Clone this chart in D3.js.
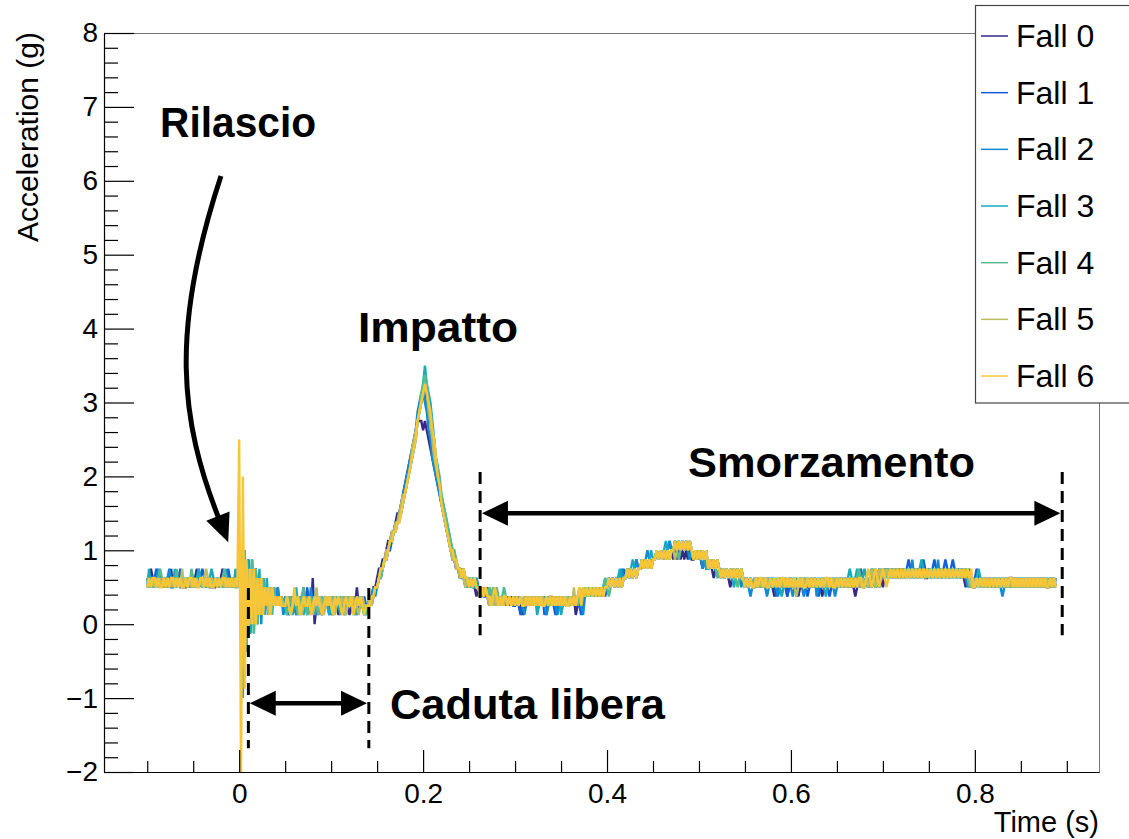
<!DOCTYPE html>
<html>
<head>
<meta charset="utf-8">
<script src="https://cdn.jsdelivr.net/npm/d3@7"></script>
<style>
  body { margin: 0; background: #fff; }
  svg { display: block; font-family: "Liberation Sans", Arial, Helvetica, sans-serif; }
</style>
</head>
<body>
<svg id="chart" width="1129" height="839"></svg>
<script>
// Accelerometer traces of seven drops. Each chunk is [start time (s), samples];
// one character per 2 ms sample, in raw sensor counts of 1/8 g ('Q' = 0 counts).
// Spaces only group the samples for reading and are ignored.
const SAMPLE_STEP = 0.002;
const G_PER_COUNT = 0.125;
const COUNT_CODES = "ABCDEFGHIJKLMNOPQRSTUVWXYZabcdefghijklmnopqrstuvwxyz";
const ZERO_CODE = 16;

const fall0 = [
  [-0.100, "UVWVUVUVUV UVUWUVUVUV UUVUVUVWUV UVUVUVUUVU VWVUVUVUVU"],
  [0.000,  "VYOXPXQWQWRVRVSURUSTSUSTS"],
  [0.050,  "STRSTSRSTS USTSRVQSTS RSTSTRSTSR STSTSRSTSU STSRS"],
  [0.140,  "STTUUVWWXX YZZaabccde fghijklmmm lmlkjihgfe dcbaZYYXWW VWVVUVUVUT"],
  [0.260,  "UTUTUTSTTU TSTSTSTSTS TSTSRSTSTS TSTSTSTRST STSTSTSTSS TSTRSTSUTU TUTUTUTUTU"],
  [0.400,  "UVUVUVUVUV VWVWVWVW WXWXWXWX XYXYXYXYXY XYXYXYXYXYX XYXYXWXW WXWVWXW VWVWVUVWVWVWV UVUVU"],
  [0.560,  "UVUVUVUVUV UTUVUVUVTU VUVUTUVUVU UVUVUVUTUV UVUVUVUVUV UVUVUTUVUV"],
  [0.680,  "UVUVUVUVWV UVWVWVWVWV WVWVWVWVWV WVWVVWVWVW VWVWVWVWVW VWVWVUVUVU"],
  [0.800,  "UVUVUVUVUV UVUVUVUVUV VUVUVUVUVU VUVUVUVUVU UVUVU"]
];

const fall1 = [
  [-0.100, "VUVUVWVUVU VUVUUVUVWV UVUVUVUVUV WVUVUUVUVU VUVUWVUVUV"],
  [0.000,  "VXKYOXPWQWQVRVRUSUSUSTSTS"],
  [0.050,  "TSRSTSTSRS TSUSTSRSTS RSTSTSRSTS TSSRSTSTSR STSTS"],
  [0.140,  "STSTUUVVWX XYYZaabccd efghijlmno pqonmkjhgf dcbaZYXXWW VWVVUVUVUV"],
  [0.260,  "UTUTTUTSTU TSTSTSTSTS STSRSTSTST STSTSTRSTS TSRSTSTSTS TSTSTSRSUT UTUTUTUTUT"],
  [0.400,  "UVUVUVUVVW VWVWVWXW WXWXWXWX XYXYXYXYZY YZYZYZYZYZY XYXYXYXY WXWXWXW VWVWVWVWVWVWV UVUVU"],
  [0.560,  "VUVUVUVUVU VUTUVUVUTU VUVTUVUVUT UVUVUTUVUV UTUVUVUVUV UVUVUVUVWV"],
  [0.680,  "UVUVWVUVUV VWVWVWVWVW VWVWXWVWVW VWXWVWVWXW VWVWXWVWXW VWVWVWVWVU"],
  [0.800,  "VWVUVUVUVU VUVUVUVUVU VUVUVUVUVU VUVUVUVUVU VUVUV"]
];

const fall2 = [
  [-0.100, "UVUVUVWVUV UVWVUVUVUU VUVUVUVUWV UVUVUVUVUV UVUWUVUVUV"],
  [0.000,  "VYMXOWPXQWRVQVSURUSTSUSTR"],
  [0.050,  "SRSTSTRSTS TSRSUSTSRS TSTSRSTSTS TSRSTSTSRS TSTSR"],
  [0.140,  "SSTUTUVWWX XYZZabbcde fghijklnop ponlkihgfe dcbaZYYXWW WVVUVUVUUV"],
  [0.260,  "UTUTUTSTST STSTSTSTST STSTSRSTST STSTSTSRST STSRSTSTST STSTSTSRTU TUTUTUTUTU"],
  [0.400,  "UVUVUVUVWV VWVWVWXW WXWXYXWX XYXYXYXYZY YZYZYZYZYXY XYXYXWXW WXWXWVW VWVWVWVWVWVUV UVUTU"],
  [0.560,  "UVUVUVUTUV UVUTUVUVUV UTUVUVUTUV UVUVTUVUVU VUVUTUVUVU VUVUVUVUVU"],
  [0.680,  "UVUVUVWVUV WVWVWVWVWV WVWVWVXVWV WVWVWVWVWV XVWVWVWVWV WVWVWVUVUV"],
  [0.800,  "UVUVUVUVUV UVUVUTUVUV UVUVUVUVUV UVUVUVUVUV UVUVU"]
];

const fall3 = [
  [-0.100, "UWUVUVUVUV UVUVUWUVUV UVUVUVUVWU VUVUVWVUVU VUVUVUVUWV"],
  [0.000,  "WYIYNXPXPWQWRVRVSUSUSTSTS"],
  [0.050,  "TSTSRSUSTS RSTSTSRSTS TSTSRSTSTS RSTSSTSRST STSRS"],
  [0.140,  "SSTTUUVWWX XYZZaabccd efghijkmno qsqpomkihf edcbaZYXXW WVWVUVUVUV"],
  [0.260,  "UTUTUTUTST STSTSTSTST STSTSTSTST STRSTSTSTS TSTSTRSTST STSTSTSTUT UTUTUTUTUV"],
  [0.400,  "UVUVUVVWUV VWVWXWVW WXWXWXYX XYXYXYZYXY YZYZYZYZYZY XYXYXYXW WXWXWXW VWVWVWVUVWVWV UVUVU"],
  [0.560,  "UVUVUVUVUV UVUVUTUVUV UVUVUVUVUV UVUVUVUVUT UVUVUVUVUV UVWVUVWVUV"],
  [0.680,  "WVUVWVUVWV WVWVWVWVWV WVWVWVWVWV WXWVWVWVWV WVWVWVWVWV WVWVWVWVUV"],
  [0.800,  "UVWVUVUVUV UVUVUVUVUV UVUVUVUVUV UVUVUVUVUV UVUVU"]
];

const fall4 = [
  [-0.100, "VUVUVUVWVU VUVUVUWUVU VUVUWVUVUV UVUVUVUVUV UVWVUVUVUU"],
  [0.000,  "VXLYOWQXPWQVRVSUSURUSTSTS"],
  [0.050,  "SRSTSTSRST USRSTSTSRS TSTSTSRSTS TSRSTSTSRS TSTSR"],
  [0.140,  "SSTTUUVVWX XYZZaabbcd efghijkmnp qrqomlkihg edcbaZYYXW WVWVVUVUVU"],
  [0.260,  "UTUTUTUTUT UTSTUTSTST STSTSTSTST STSTSTSTST STSTSTSTST STSTSTSTUT UTUTUTUTUV"],
  [0.400,  "UTUVUVUVUV VWVWVWVW WXWXWXWX XYXYXYXYXY YZYXYZYZYZY XYXYXYXY WXWXWVW VWVWVWVWVUVWV UVUVU"],
  [0.560,  "VUVUVUVUVU VUVUVUVUVU VUVUVUVUVU VUVUVUVUVU VUVUVUVUVU VUVUVUVWVU"],
  [0.680,  "VUVUVWVUVW VWVWVWVWVW VWVWVWVWVW VWVWVWVWVW VWVWVWVWVW VWVWVWVUVU"],
  [0.800,  "VUVUVUVUVU VUVUVUVUVU VUVUVUVUVU VUVUVUVUVU VUVUV"]
];

const fall5 = [
  [-0.100, "UVUVUVUVUV UVUVUVUVUW UVUVUVUVUV UVWVUVUVUV UVUVUVUVUV"],
  [0.000,  "VWNXPWQWQVRVRUSURUSTSTSTS"],
  [0.050,  "STSRSTSTSR STSTSRSUST SRSTSTSRST STSRSTSTSS RSTSS"],
  [0.140,  "STSTUUVWWX YYZaabbcde efghjklmno pqpnmkihgf dcbaZYXXWW VWVUVUVUVU"],
  [0.260,  "UTUTUTSTST STSTSTSTST STSTSTSTST STSTSTSTST TSTSTSTSTS TSUSTUTUTU TUTUTUTUTU"],
  [0.400,  "UVUVUVUVUV VWVWVWVW WXWXWXWX XYXYXYXYXY YXYZYZYZYZY XYXYXYXY WXWXWXW VWVWVWVWVWVWV UVUVU"],
  [0.560,  "UVUVUVUVUV UVUVUVUVUV UVUTUVUVUV UVUVUVUVUV UVUVUVUVUV UVUVUVUVUV"],
  [0.680,  "UVUVWVUVWV WVWVWVWVWV WVWVWVWVWV WVWVWVWVWV WVWVWVWVWV WVWVWVWVUV"],
  [0.800,  "UVUVUVUVUV UVUVUVUVUV UVUVUVUVUV UVUVUVUVUV UVUVU"]
];

const fall6 = [
  [-0.100, "UVUVVUVUUV UVUVVUVUVU UVUVVUVUUV VUVUVUUVUV UVVUVUVUVU"],
  [0.000,  "kAgJXPWQWQVRVRUSURUSTSTSS"],
  [0.050,  "STSRSUSTR STSSTRSTS TSRSTSTSR TSTSRSTSS TRSTSTSRS"],
  [0.140,  "SSTTUUVWWX XYZZaabbcd efghijkmno pqponlkigf dcbaZYYXXW WVWVVUVUVU"],
  [0.260,  "UTUTUTTSTU TSTSTTSTST STSTSSTSTS TSTSTSSTST STSTSTSTSS TSTSTUSUTU TUTUTUTUTU"],
  [0.400,  "UVUVUVUVUV VWVWVWVW WXWXWXWX XYXYXYXYXY YZYZYZYZYZY XYXYXYXY WXWXWXW VWVWVWVWVWVWV UVUVU"],
  [0.560,  "UVUVVUVUUV UVUVUVVUVU VUVUVUVUUV UVUVUVUVUV VUVUUVUVUV UVUVUVUVVU"],
  [0.680,  "UVWVUVWVUV WVUVWVWVWV WVWVWVWVWV WVWVWVWVWV WVWVWVWVWV WVWVWVWVWU"],
  [0.800,  "UVUVUVUVUV UVUVUVUVUV VUVUVUVUVU VUVUVUVUVU UVUVU"]
];

const seriesNames  = ["Fall 0", "Fall 1", "Fall 2", "Fall 3", "Fall 4", "Fall 5", "Fall 6"];
const seriesColors = ["#352a87", "#105fdc", "#108bd2", "#17abb9", "#55ba8f", "#bcbc62", "#f7c638"];
const seriesChunks = [fall0, fall1, fall2, fall3, fall4, fall5, fall6];

const xTickValues = [0, 0.2, 0.4, 0.6, 0.8];
const xTickLabels = ["0", "0.2", "0.4", "0.6", "0.8"];
const yTickValues = [-2, -1, 0, 1, 2, 3, 4, 5, 6, 7, 8];
const yTickLabels = ["\u22122", "\u22121", "0", "1", "2", "3", "4", "5", "6", "7", "8"];

const xTitle = "Time (s)";
const yTitle = "Acceleration (g)";

// Phase boundaries (s) and the labels written on the plot
const phaseMarks = [
  { t: 0.010, from: 0.49, to: -1.68 },
  { t: 0.141, from: 0.49, to: -1.68 },
  { t: 0.262, from: 2.06, to: -0.15 },
  { t: 0.895, from: 2.06, to: -0.15 }
];
const spanArrows = [
  { t0: 0.0115, t1: 0.139, g: -1.07 },
  { t0: 0.264,  t1: 0.893, g: 1.5 }
];
const phaseLabels = [
  { text: "Rilascio",      t: -0.086, g: 6.59,  width: 156 },
  { text: "Impatto",       t: 0.1292, g: 3.82,  width: 160 },
  { text: "Smorzamento",   t: 0.488,  g: 1.99,  width: 287 },
  { text: "Caduta libera", t: 0.164,  g: -1.28, width: 275 }
];
// Curved pointer from "Rilascio" down to the release spike: start, two controls, end
const releasePointer = [[-0.0198, 6.065], [-0.0752, 3.981], [-0.0644, 2.763], [-0.0219, 1.424]];

function decode(chunks) {
  const pts = [];
  chunks.forEach(([t0, codes]) => {
    const s = codes.replace(/\s+/g, "");
    for (let i = 0; i < s.length; i++) {
      pts.push({ t: t0 + i * SAMPLE_STEP, g: (COUNT_CODES.indexOf(s[i]) - ZERO_CODE) * G_PER_COUNT });
    }
  });
  return pts;
}
const series = seriesChunks.map((c, i) => ({ name: seriesNames[i], color: seriesColors[i], values: decode(c) }));

// ---------- layout ----------
const plot = { left: 104, right: 1099, top: 33, bottom: 772 };
const x = d3.scaleLinear().domain([-0.147, 0.935]).range([plot.left, plot.right]);
const y = d3.scaleLinear().domain([-2, 8]).range([plot.bottom, plot.top]);

const svg = d3.select("#chart");
const FONT = "'Liberation Sans', Arial, Helvetica, sans-serif";

svg.append("defs").append("clipPath").attr("id", "plot-clip")
  .append("rect")
  .attr("x", plot.left).attr("y", plot.top)
  .attr("width", plot.right - plot.left).attr("height", plot.bottom - plot.top);

// frame
svg.append("rect")
  .attr("x", plot.left + 0.5).attr("y", plot.top + 0.5)
  .attr("width", plot.right - plot.left).attr("height", plot.bottom - plot.top)
  .attr("fill", "none").attr("stroke", "#777").attr("stroke-width", 1);

// ---------- traces ----------
const line = d3.line().x(d => x(d.t)).y(d => y(d.g));
svg.append("g").attr("clip-path", "url(#plot-clip)")
  .selectAll("path").data(series).join("path")
  .attr("d", d => line(d.values))
  .attr("fill", "none")
  .attr("stroke", d => d.color)
  .attr("stroke-width", 2.4)
  .attr("stroke-linejoin", "miter");

// ---------- axes ----------
function styleAxis(g) {
  g.attr("font-family", FONT).attr("font-size", 28);
  g.selectAll(".domain").attr("stroke", "#000").attr("stroke-width", 1.2);
  g.selectAll(".tick line").attr("stroke", "#000").attr("stroke-width", 1.2);
  g.selectAll(".tick text").attr("fill", "#000");
}

const yMinor = d3.range(-2, 8.001, 0.2).map(v => +v.toFixed(2)).filter(v => Math.abs(v - Math.round(v)) > 1e-6);
const xMinor = d3.range(-0.1, 0.9001, 0.05).map(v => +v.toFixed(2)).filter(v => Math.abs(v / 0.2 - Math.round(v / 0.2)) > 1e-6);

svg.append("g").attr("transform", `translate(${plot.left},0)`)
  .call(d3.axisLeft(y).tickValues(yMinor).tickFormat("").tickSizeInner(-14).tickSizeOuter(0))
  .call(g => g.select(".domain").remove())
  .call(styleAxis);
svg.append("g").attr("transform", `translate(${plot.left},0)`)
  .call(d3.axisLeft(y).tickValues(yTickValues).tickFormat((d, i) => yTickLabels[i])
    .tickSizeInner(-30).tickSizeOuter(0).tickPadding(6))
  .call(styleAxis);

svg.append("g").attr("transform", `translate(0,${plot.bottom})`)
  .call(d3.axisBottom(x).tickValues(xMinor).tickFormat("").tickSizeInner(-11).tickSizeOuter(0))
  .call(g => g.select(".domain").remove())
  .call(styleAxis);
svg.append("g").attr("transform", `translate(0,${plot.bottom})`)
  .call(d3.axisBottom(x).tickValues(xTickValues).tickFormat((d, i) => xTickLabels[i])
    .tickSizeInner(-22).tickSizeOuter(0).tickPadding(11))
  .call(styleAxis);

// axis titles
svg.append("text")
  .attr("x", plot.right).attr("y", 832)
  .attr("text-anchor", "end")
  .attr("font-family", FONT).attr("font-size", 29)
  .text(xTitle);
svg.append("text")
  .attr("transform", `translate(38,${plot.top - 1}) rotate(-90)`)
  .attr("text-anchor", "end")
  .attr("font-family", FONT).attr("font-size", 30)
  .text(yTitle);

// ---------- legend ----------
const legend = svg.append("g");
legend.append("rect")
  .attr("x", 975.5).attr("y", 5.5).attr("width", 200).attr("height", 397.5)
  .attr("fill", "#fff").attr("stroke", "#444").attr("stroke-width", 1.2);
const rows = legend.selectAll("g.row").data(series).join("g")
  .attr("class", "row")
  .attr("transform", (d, i) => `translate(0,${47 + i * 56.67})`);
rows.append("line")
  .attr("x1", 981).attr("x2", 1008).attr("y1", -11).attr("y2", -11)
  .attr("stroke", d => d.color).attr("stroke-width", 1.5);
rows.append("text")
  .attr("x", 1016).attr("y", 0)
  .attr("font-family", FONT).attr("font-size", 32)
  .text(d => d.name);

// ---------- phase annotations ----------
const ann = svg.append("g");

ann.selectAll("line.mark").data(phaseMarks).join("line")
  .attr("class", "mark")
  .attr("x1", d => x(d.t)).attr("x2", d => x(d.t))
  .attr("y1", d => y(d.from)).attr("y2", d => y(d.to))
  .attr("stroke", "#000").attr("stroke-width", 3)
  .attr("stroke-dasharray", "12,7");

const HEAD_LEN = 26, HEAD_HALF = 12.5;
spanArrows.forEach(a => {
  const xa = x(a.t0), xb = x(a.t1), yy = y(a.g);
  ann.append("line")
    .attr("x1", xa + HEAD_LEN - 2).attr("x2", xb - HEAD_LEN + 2)
    .attr("y1", yy).attr("y2", yy)
    .attr("stroke", "#000").attr("stroke-width", 4.5);
  ann.append("path")
    .attr("d", `M${xa},${yy}L${xa + HEAD_LEN},${yy - HEAD_HALF}L${xa + HEAD_LEN},${yy + HEAD_HALF}Z`)
    .attr("fill", "#000");
  ann.append("path")
    .attr("d", `M${xb},${yy}L${xb - HEAD_LEN},${yy - HEAD_HALF}L${xb - HEAD_LEN},${yy + HEAD_HALF}Z`)
    .attr("fill", "#000");
});

// curved pointer with its head along the end tangent
{
  const p = releasePointer.map(([t, g]) => [x(t), y(g)]);
  ann.append("path")
    .attr("d", `M${p[0][0]},${p[0][1]}C${p[1][0]},${p[1][1]} ${p[2][0]},${p[2][1]} ${p[3][0]},${p[3][1]}`)
    .attr("fill", "none").attr("stroke", "#000").attr("stroke-width", 5);
  const dx = p[3][0] - p[2][0], dy = p[3][1] - p[2][1];
  const len = Math.hypot(dx, dy), ux = dx / len, uy = dy / len;
  const bx = p[3][0] - ux * 3, by = p[3][1] - uy * 3;
  const tip = [bx + ux * 28, by + uy * 28];
  const l = [bx - uy * HEAD_HALF, by + ux * HEAD_HALF];
  const r = [bx + uy * HEAD_HALF, by - ux * HEAD_HALF];
  ann.append("path")
    .attr("d", `M${tip[0]},${tip[1]}L${l[0]},${l[1]}L${r[0]},${r[1]}Z`)
    .attr("fill", "#000");
}

ann.selectAll("text.phase").data(phaseLabels).join("text")
  .attr("class", "phase")
  .attr("x", d => x(d.t)).attr("y", d => y(d.g))
  .attr("font-family", FONT).attr("font-weight", "bold").attr("font-size", 42)
  .attr("textLength", d => d.width).attr("lengthAdjust", "spacingAndGlyphs")
  .text(d => d.text);
</script>
</body>
</html>
